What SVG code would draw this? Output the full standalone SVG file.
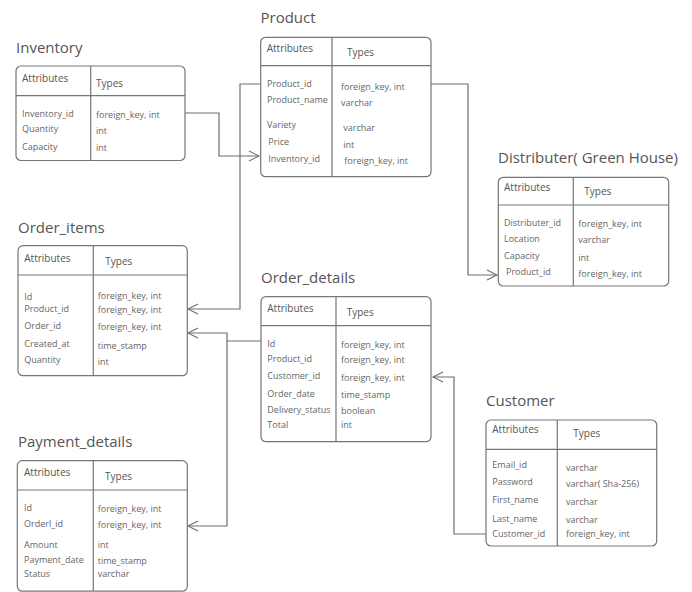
<svg xmlns="http://www.w3.org/2000/svg" width="692" height="592" viewBox="0 0 692 592">
<defs>
<marker id="arr" markerUnits="userSpaceOnUse" markerWidth="12" markerHeight="12" refX="10" refY="5" orient="auto" overflow="visible">
<path d="M0,0 L10,5 L0,10" fill="none" stroke="#6e6e6e" stroke-width="1.1"/>
</marker>
<style>
.box{fill:#fff;stroke:#767676;stroke-width:1.2}
.ln{stroke:#767676;stroke-width:1.2;fill:none}
.ttl{font-family:"Open Sans","Noto Sans",sans-serif;font-size:15px;fill:#555}
.hd{font-family:"Open Sans","Noto Sans",sans-serif;font-size:10px;fill:#555}
.r{font-family:"Open Sans","Noto Sans",sans-serif;font-size:9px;fill:#666}
.con{stroke:#6e6e6e;stroke-width:1.2;fill:none;marker-end:url(#arr)}
</style>
</defs>
<rect width="692" height="592" fill="#fff"/>

<g id="connectors">
<path class="con" d="M185,113 H219 V156 H259"/>
<path class="con" d="M261,84 H240 V309 H188"/>
<path class="con" d="M431,84 H468 V275 H497"/>
<path class="con" d="M261,341 H227 V333 H188"/>
<path class="con" d="M227,341 V526 H188"/>
<path class="con" d="M486,534 H454 V377 H433"/>
</g>

<g id="inventory">
<text class="ttl" x="16" y="53">Inventory</text>
<rect class="box" x="16" y="66" width="169" height="94.5" rx="5"/>
<line class="ln" x1="16" y1="95.7" x2="185" y2="95.7"/>
<line class="ln" x1="90.7" y1="66" x2="90.7" y2="160.5"/>
<text class="hd" x="22" y="81.5">Attributes</text>
<text class="hd" x="96" y="86.5">Types</text>
<text class="r" x="22" y="117">Inventory_id</text>
<text class="r" x="22" y="132">Quantity</text>
<text class="r" x="22" y="150">Capacity</text>
<text class="r" x="96" y="118">foreign_key, int</text>
<text class="r" x="96" y="134">int</text>
<text class="r" x="96" y="150.5">int</text>
</g>

<g id="product">
<text class="ttl" x="260.5" y="22.5">Product</text>
<rect class="box" x="260.7" y="37.3" width="170.3" height="139.4" rx="5"/>
<line class="ln" x1="260.7" y1="65.7" x2="431" y2="65.7"/>
<line class="ln" x1="332" y1="37.3" x2="332" y2="176.7"/>
<text class="hd" x="266.7" y="51.7">Attributes</text>
<text class="hd" x="347" y="55.7">Types</text>
<text class="r" x="267" y="86.7">Product_id</text>
<text class="r" x="267" y="102.7">Product_name</text>
<text class="r" x="267" y="128.3">Variety</text>
<text class="r" x="268.3" y="145">Price</text>
<text class="r" x="268.3" y="162.3">Inventory_id</text>
<text class="r" x="341" y="90">foreign_key, int</text>
<text class="r" x="341" y="106">varchar</text>
<text class="r" x="343.3" y="130.7">varchar</text>
<text class="r" x="343.3" y="148.3">int</text>
<text class="r" x="344.3" y="164.3">foreign_key, int</text>
</g>

<g id="distributer">
<text class="ttl" x="498" y="162.5">Distributer( Green House)</text>
<rect class="box" x="498.3" y="177.3" width="170.4" height="108.7" rx="5"/>
<line class="ln" x1="498.3" y1="205" x2="668.7" y2="205"/>
<line class="ln" x1="573.3" y1="177.3" x2="573.3" y2="286"/>
<text class="hd" x="504" y="190.7">Attributes</text>
<text class="hd" x="584.3" y="195">Types</text>
<text class="r" x="504" y="226">Distributer_id</text>
<text class="r" x="504" y="241.7">Location</text>
<text class="r" x="504" y="259">Capacity</text>
<text class="r" x="506" y="275">Product_id</text>
<text class="r" x="578.3" y="227.3">foreign_key, int</text>
<text class="r" x="578.3" y="243.3">varchar</text>
<text class="r" x="578.3" y="260.7">int</text>
<text class="r" x="578.3" y="277.3">foreign_key, int</text>
</g>

<g id="order_items">
<text class="ttl" x="18" y="232.5">Order_items</text>
<rect class="box" x="18" y="245.7" width="169.3" height="130" rx="5"/>
<line class="ln" x1="18" y1="275" x2="187.3" y2="275"/>
<line class="ln" x1="93.3" y1="245.7" x2="93.3" y2="375.7"/>
<text class="hd" x="24.3" y="261.7">Attributes</text>
<text class="hd" x="105.3" y="265">Types</text>
<text class="r" x="24.3" y="300">Id</text>
<text class="r" x="24.3" y="312.3">Product_id</text>
<text class="r" x="24.3" y="329.3">Order_id</text>
<text class="r" x="24.3" y="347.3">Created_at</text>
<text class="r" x="24.3" y="362.7">Quantity</text>
<text class="r" x="97.7" y="299.3">foreign_key, int</text>
<text class="r" x="97.7" y="313.3">foreign_key, int</text>
<text class="r" x="97.7" y="330">foreign_key, int</text>
<text class="r" x="97.7" y="349.3">time_stamp</text>
<text class="r" x="97.7" y="365">int</text>
</g>

<g id="order_details">
<text class="ttl" x="261" y="282.5">Order_details</text>
<rect class="box" x="261" y="296.7" width="170" height="145" rx="5"/>
<line class="ln" x1="261" y1="325.7" x2="431" y2="325.7"/>
<line class="ln" x1="336" y1="296.7" x2="336" y2="441.7"/>
<text class="hd" x="267.3" y="311.7">Attributes</text>
<text class="hd" x="346.7" y="315.7">Types</text>
<text class="r" x="267.3" y="347.3">Id</text>
<text class="r" x="267.3" y="361.7">Product_id</text>
<text class="r" x="267.3" y="379.3">Customer_id</text>
<text class="r" x="267.3" y="397.3">Order_date</text>
<text class="r" x="267.3" y="412.7">Delivery_status</text>
<text class="r" x="267.3" y="427.7">Total</text>
<text class="r" x="341" y="348.3">foreign_key, int</text>
<text class="r" x="341" y="363.3">foreign_key, int</text>
<text class="r" x="341" y="380.7">foreign_key, int</text>
<text class="r" x="341" y="398.3">time_stamp</text>
<text class="r" x="341" y="414">boolean</text>
<text class="r" x="341" y="428.3">int</text>
</g>

<g id="customer">
<text class="ttl" x="486" y="406">Customer</text>
<rect class="box" x="486" y="420" width="170.7" height="126" rx="5"/>
<line class="ln" x1="486" y1="449.3" x2="656.7" y2="449.3"/>
<line class="ln" x1="557.3" y1="420" x2="557.3" y2="546"/>
<text class="hd" x="492.3" y="433.3">Attributes</text>
<text class="hd" x="573.3" y="437.3">Types</text>
<text class="r" x="492.3" y="468.3">Email_id</text>
<text class="r" x="492.3" y="485">Password</text>
<text class="r" x="492.3" y="502.7">First_name</text>
<text class="r" x="492.3" y="521.7">Last_name</text>
<text class="r" x="492.3" y="536.7">Customer_id</text>
<text class="r" x="566" y="470.7">varchar</text>
<text class="r" x="566" y="487.3">varchar( Sha-256)</text>
<text class="r" x="566" y="505">varchar</text>
<text class="r" x="566" y="523.3">varchar</text>
<text class="r" x="566" y="537.3">foreign_key, int</text>
</g>

<g id="payment_details">
<text class="ttl" x="18" y="446.5">Payment_details</text>
<rect class="box" x="17.3" y="460.7" width="170" height="130.5" rx="5"/>
<line class="ln" x1="17.3" y1="490" x2="187.3" y2="490"/>
<line class="ln" x1="93.3" y1="460.7" x2="93.3" y2="591"/>
<text class="hd" x="24" y="476">Attributes</text>
<text class="hd" x="105" y="480">Types</text>
<text class="r" x="24" y="510.7">Id</text>
<text class="r" x="24" y="527.3">Orderl_id</text>
<text class="r" x="24" y="548.3">Amount</text>
<text class="r" x="24" y="562.7">Payment_date</text>
<text class="r" x="24" y="577.3">Status</text>
<text class="r" x="97.7" y="511.7">foreign_key, int</text>
<text class="r" x="97.7" y="528.3">foreign_key, int</text>
<text class="r" x="97.7" y="548.3">int</text>
<text class="r" x="97.7" y="564.3">time_stamp</text>
<text class="r" x="97.7" y="577.3">varchar</text>
</g>
</svg>
